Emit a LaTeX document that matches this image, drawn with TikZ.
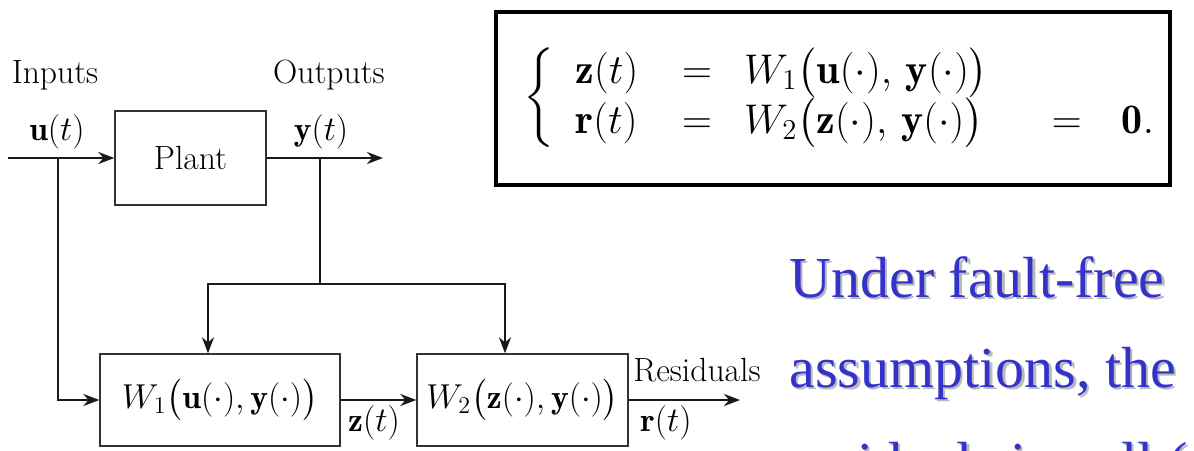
\documentclass[tikz,border=0pt]{standalone}
\usepackage{amsmath}
\usepackage{fontspec}
\usepackage{tikz}
\usetikzlibrary{arrows.meta, positioning}
\newfontfamily\slidefont{Liberation Serif}
\definecolor{slideblue}{RGB}{51, 51, 204}
\definecolor{shadowgray}{RGB}{185, 185, 185}

\begin{document}
\begin{tikzpicture}[
    x=0.5pt, y=-0.5pt,
    block/.style={rectangle, draw=black!80, line width=0.7pt, inner sep=0pt,
                  font=\fontsize{16.8}{20}\selectfont},
    arrow/.style={-{Stealth[length=8pt, width=6pt]}, line width=1.3pt, black!90},
    wire/.style={line width=1.3pt, black!90},
    label/.style={font=\fontsize{16.8}{20}\selectfont, inner sep=0pt},
    eqlabel/.style={font=\fontsize{21}{25}\selectfont, inner sep=0pt},
    slide/.style={font=\slidefont\fontsize{29}{35}\selectfont, text=slideblue,
                  anchor=base west, inner sep=0pt},
    slideshadow/.style={slide, text=shadowgray}
]
\useasboundingbox (0,0) rectangle (1194,450);

% block diagram
\node[block, minimum width=75.5pt, minimum height=47pt] (plant) at (190.5,158) {Plant};
\node[block, minimum width=120pt, minimum height=46pt] (w1) at (220,400)
    {$W_1\big(\mathbf{u}(\cdot),\mathbf{y}(\cdot)\big)$\hspace{10pt}};
\node[block, minimum width=105.5pt, minimum height=46pt] (w2) at (522.5,400)
    {$W_2\big(\mathbf{z}(\cdot),\mathbf{y}(\cdot)\big)$};

\node[label] (inputs) at (55,75) {Inputs};
\node[label] (outputs) at (329,75) {Outputs};
\node[label] (ulab) at (57,132) {$\mathbf{u}(t)$};
\node[label] (ylab) at (321,132) {$\mathbf{y}(t)$};
\node[label] (zlab) at (374,423) {$\mathbf{z}(t)$};
\node[label] (resid) at (697,370) {Residuals};
\node[label] (rlab) at (666,423) {$\mathbf{r}(t)$};

\coordinate (uin) at (8,158);
\coordinate (ubr) at (58,158);
\coordinate (ybr) at (320,158);
\coordinate (yout) at (383,158);
\coordinate (ysplit) at (320,284);
\coordinate (rout) at (740,400);

\draw[arrow] (uin) -- (plant.west);
\draw[arrow] (plant.east) -- (yout);
\draw[arrow] (ubr) |- (w1.west);
\draw[wire] (ybr) -- (ysplit);
\draw[arrow] (ysplit) -| ([xshift=-6pt]w1.north);
\draw[arrow] (ysplit) -| ([xshift=-8.75pt]w2.north);
\draw[arrow] (w1.east) -- (w2.west);
\draw[arrow] (w2.east) -- (rout);

% equations
\node[draw=black, line width=2pt, minimum width=337pt, minimum height=86.5pt,
      inner sep=0pt] (eqbox) at (833,98.5) {};
\node[eqlabel, anchor=west] (eqs) at (523,98)
    {$\left\{\begin{array}{@{\hspace{10.5pt}}l@{\hspace{22pt}}c@{\hspace{16pt}}l@{\hspace{32pt}}c@{\hspace{20pt}}l@{}}
      \mathbf{z}(t) & = & W_1\big(\mathbf{u}(\cdot),\,\mathbf{y}(\cdot)\big) & & \\
      \mathbf{r}(t) & = & W_2\big(\mathbf{z}(\cdot),\,\mathbf{y}(\cdot)\big) & = & \mathbf{0}.
     \end{array}\right.$};

% slide text
\node[slideshadow] (ln1s) at (791.5,299.5) {Under fault-free};
\node[slide] (ln1) at (789,297) {Under fault-free};
\node[slideshadow] (ln2s) at (791.5,389.5) {assumptions, the};
\node[slide] (ln2) at (789,387) {assumptions, the};
\begin{scope}
  \clip (760,300) rectangle (1194,450);
  \node[slideshadow] (ln3s) at (791.5,484.5) {residuals is null (};
  \node[slide] (ln3) at (789,482) {residuals is null (};
\end{scope}

\end{tikzpicture}
\end{document}
